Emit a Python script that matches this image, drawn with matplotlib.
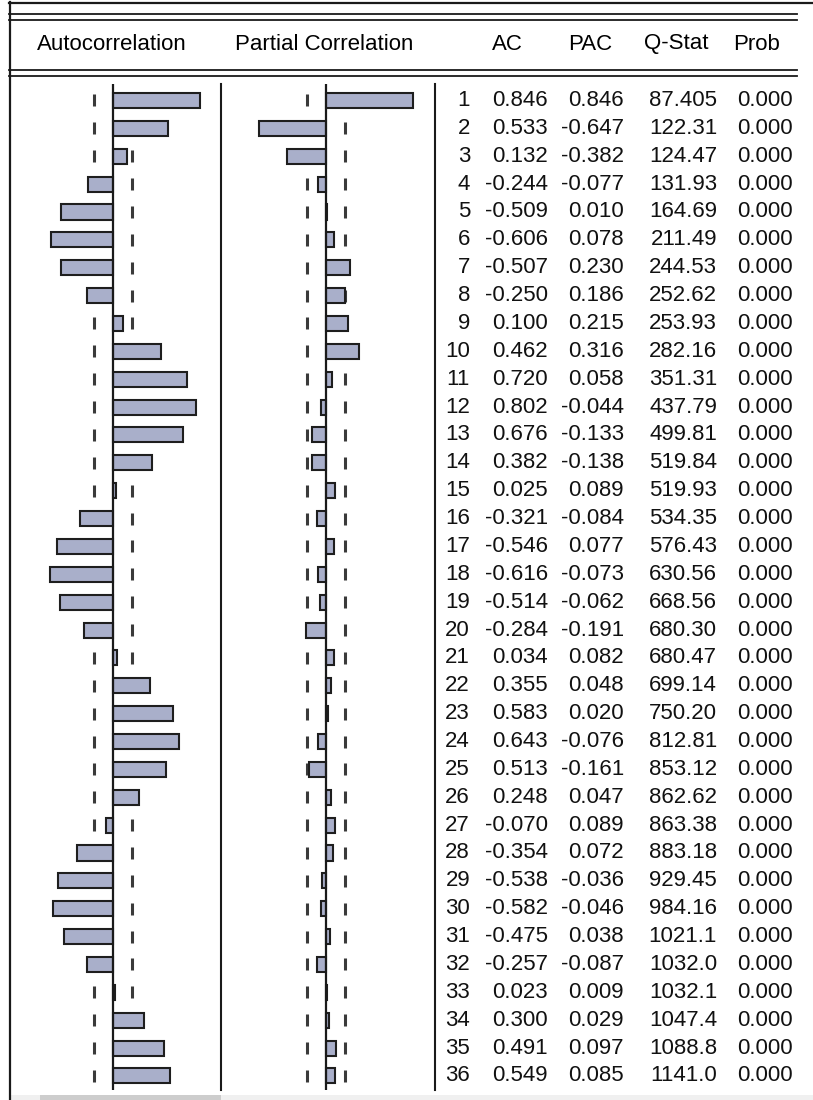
import numpy as np
import matplotlib
matplotlib.use("Agg")
from matplotlib import pyplot as plt

# correlogram values (EViews style output)
lags = np.arange(1, 37)
ac = [0.846, 0.533, 0.132, -0.244, -0.509, -0.606, -0.507, -0.250, 0.100, 0.462,
      0.720, 0.802, 0.676, 0.382, 0.025, -0.321, -0.546, -0.616, -0.514, -0.284,
      0.034, 0.355, 0.583, 0.643, 0.513, 0.248, -0.070, -0.354, -0.538, -0.582,
      -0.475, -0.257, 0.023, 0.300, 0.491, 0.549]
pac = [0.846, -0.647, -0.382, -0.077, 0.010, 0.078, 0.230, 0.186, 0.215, 0.316,
       0.058, -0.044, -0.133, -0.138, 0.089, -0.084, 0.077, -0.073, -0.062, -0.191,
       0.082, 0.048, 0.020, -0.076, -0.161, 0.047, 0.089, 0.072, -0.036, -0.046,
       0.038, -0.087, 0.009, 0.029, 0.097, 0.085]
qstat = [87.405, 122.31, 124.47, 131.93, 164.69, 211.49, 244.53, 252.62, 253.93, 282.16,
         351.31, 437.79, 499.81, 519.84, 519.93, 534.35, 576.43, 630.56, 668.56, 680.30,
         680.47, 699.14, 750.20, 812.81, 853.12, 862.62, 863.38, 883.18, 929.45, 984.16,
         1021.1, 1032.0, 1032.1, 1047.4, 1088.8, 1141.0]
prob = [0.000] * 36
nobs = 120
bound = 2 / np.sqrt(nobs)

W, H = 813, 1100
plt.rcParams['font.family'] = ['Liberation Sans', 'DejaVu Sans']
fig = plt.figure(figsize=(W / 100, H / 100), dpi=100)

def box(x0, y0, x1, y1):
    ax = fig.add_axes([x0 / W, 1 - y1 / H, (x1 - x0) / W, (y1 - y0) / H])
    ax.set_axis_off()
    return ax

# overlay in pixel coordinates for frame and header
frame = box(0, 0, W, H)
frame.set_xlim(0, W)
frame.set_ylim(H, 0)
lc = '#1a1a1a'
frame.plot([9, W], [2.5, 2.5], color=lc, lw=1.6)
for y in (14, 20, 70, 76):
    frame.plot([9, 797], [y, y], color=lc, lw=1.3)
frame.plot([9.5, 9.5], [2, H], color=lc, lw=1.6)
frame.add_patch(plt.Rectangle((10.5, 1095), W, 5, color='#f0f0f0', lw=0))
frame.add_patch(plt.Rectangle((40, 1095), 181, 5, color='#cdcdcd', lw=0))

hdr_y = 44
fs = 16
frame.text(112, hdr_y, 'Autocorrelation', ha='center', va='center', fontsize=fs)
frame.text(324, hdr_y, 'Partial Correlation', ha='center', va='center', fontsize=fs)
frame.text(492, hdr_y, 'AC', ha='left', va='center', fontsize=fs)
frame.text(568, hdr_y, 'PAC', ha='left', va='center', fontsize=fs)
frame.text(644, hdr_y, 'Q-Stat', ha='left', va='center', fontsize=fs)
frame.text(733, hdr_y, 'Prob', ha='left', va='center', fontsize=fs)

# row geometry: lag 1 centred at y=100.5 px, spacing 27.87 px
y_top, y_bot = 84, 1090
row0, step = 100.5, 27.87
ylim = (1 + (y_bot - row0) / step, 1 + (y_top - row0) / step)
ppu = 103.0  # pixels per unit correlation

bar_fc = '#a9afca'
bar_ec = '#1e1e1e'

def panel(x0, zero, x1, vals):
    ax = box(x0, y_top, x1, y_bot)
    ax.set_xlim((x0 - zero) / ppu, (x1 - zero) / ppu)
    ax.set_ylim(*ylim)
    for b in (-bound, bound):
        ax.plot(np.full(len(lags), b), lags, ls='none', marker='|', ms=8.5,
                mew=2.2, color='#3a3a3a', zorder=1)
    ax.barh(lags, vals, height=0.54, color=bar_fc, edgecolor=bar_ec,
            linewidth=1.5, zorder=2)
    ax.axvline(0, color=lc, lw=1.6, zorder=3)
    return ax

panel(9, 113, 220, ac)
panel(220, 326, 434, pac)

# separators
frame.plot([220.5, 220.5], [y_top, y_bot], color=lc, lw=1.5)
frame.plot([434.5, 434.5], [y_top, y_bot], color=lc, lw=1.5)

# table
tab = box(434, y_top, W, y_bot)
tab.set_xlim(434, W)
tab.set_ylim(*ylim)

def fmt_q(q):
    d = max(0, 5 - len(str(int(q))))
    return f"{q:.{d}f}"

tc = '#111111'
for i, lag in enumerate(lags):
    kw = dict(ha='right', va='center', fontsize=fs, color=tc)
    tab.text(470, lag, str(lag), **kw)
    tab.text(548, lag, f"{ac[i]:.3f}", **kw)
    tab.text(624, lag, f"{pac[i]:.3f}", **kw)
    tab.text(717, lag, fmt_q(qstat[i]), **kw)
    tab.text(793, lag, f"{prob[i]:.3f}", **kw)

fig.savefig('out.png', dpi=100)
